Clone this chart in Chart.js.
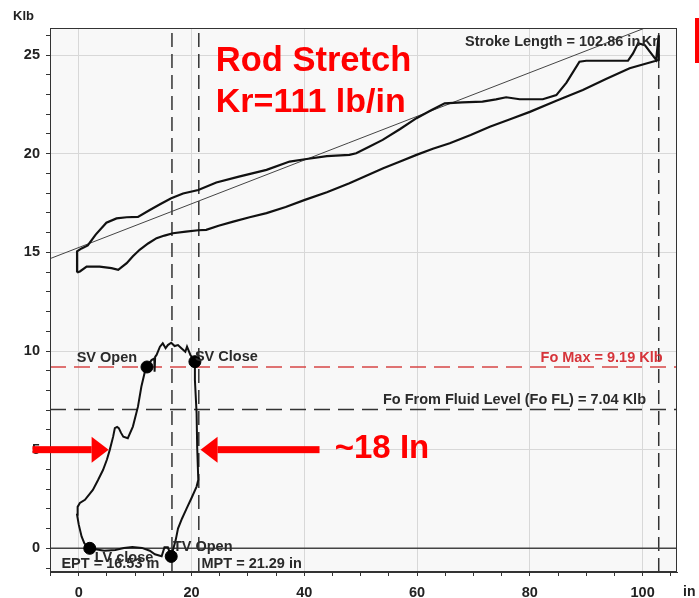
<!DOCTYPE html>
<html><head><meta charset="utf-8">
<script src="https://cdn.jsdelivr.net/npm/chart.js@4"></script>
<style>html,body{margin:0;padding:0;background:#fff;}#wrap{width:699px;height:598px;position:relative;}</style>
</head><body><div id="wrap"><canvas id="c" width="699" height="598"></canvas></div>
<script>
// Surface card (closed loop): upstroke left->right, downstroke right->left
const surfaceX = [-0.3,-0.3,0.5,1.6,3.0,4.9,6.7,8.5,10.5,12.6,14.5,16.4,18.5,21.2,24.4,28.4,33.3,37.4,40.1,44,48,49.2,51.5,53.9,57,59.9,62.5,64.9,68,71.6,74,75.8,78.2,82.3,84.7,86.5,88.8,90,97.4,98.3,99.2,100.4,102.4,102.86,102.86,
  97.7,93.5,89.4,84.7,80,76.5,72.9,69.5,65.8,62.8,59.9,57,54,51,48,44,40.1,36.7,33.3,30.3,27.4,24.8,22.6,21.2,19,16.7,15.2,13.8,12.3,10.8,9.6,8.5,7.0,5.8,3.7,1.4,0.2,-0.3];
const surfaceY = [13.98,15.05,15.2,15.35,15.9,16.5,16.72,16.78,16.8,17.15,17.45,17.74,17.98,18.16,18.54,18.84,19.18,19.6,19.72,19.88,19.94,20.02,20.35,20.7,21.25,21.8,22.2,22.55,22.6,22.64,22.75,22.86,22.76,22.76,22.97,23.6,24.66,24.71,24.71,25.08,25.6,25.5,24.75,26.0,24.75,
  24.33,23.78,23.23,22.68,22.12,21.75,21.37,20.95,20.53,20.25,19.94,19.6,19.26,18.88,18.5,18.05,17.66,17.3,16.99,16.78,16.56,16.35,16.14,16.12,16.05,15.97,15.85,15.72,15.45,15.13,14.8,14.45,14.11,14.2,14.28,14.28,14.03,13.98];
// Downhole (pump) card
const pumpX = [1.95,1.0,0.5,0.0,-0.3,-0.2,0.2,1.1,2.5,3.4,4.3,5.0,5.5,6.1,6.4,6.8,7.1,7.5,7.9,8.7,9.6,10.5,11.1,11.8,12.1,12.9,13.4,13.45,13.55,13.8,14.4,14.9,15.4,15.8,16.4,17.0,17.6,18.2,18.9,19.2,19.8,20.6,20.6,20.9,21.0,21.2,20.9,20.0,19.1,18.3,17.6,17.2,16.4,15.8,15.2,14.7,13.5,12.6,11.2,9.5,8.0,6.5,4.5,1.95];
const pumpY = [0,0.25,0.6,1.2,1.7,2.1,2.3,2.46,2.96,3.45,3.97,4.5,4.99,5.66,6.09,6.15,6.09,5.85,5.66,5.58,6.17,7.18,8.19,9.04,9.19,9.54,9.62,8.95,9.7,9.8,10.22,10.39,10.14,10.3,10.42,10.25,10.3,10.14,9.96,10.22,9.8,9.46,8.53,6.85,5.15,3.47,3.13,2.55,2.0,1.5,1.0,0.43,-0.41,0.05,0.05,-0.4,-0.3,-0.12,0.02,0.07,0.02,-0.08,-0.12,0];
// Valve events
const eventNames = ['LV close','SV Open','SV Close','TV Open'];
const eventX = [1.95,12.1,20.6,16.4];
const eventY = [0,9.19,9.46,-0.41];
// Rod stretch line (read endpoints)
const rodLineX = [-5.1,106.1];
const rodLineY = [14.68,27.0];
// Reference values
const foMax = 9.19, foFL = 7.04, ept = 16.53, mpt = 21.29, strokeLength = 102.86;
// Axes
const xMin = -5.1, xMax = 106.1, yMin = -1.2, yMax = 26.37;
const xMajorTicks = [0,20,40,60,80,100];
const yMajorTicks = [0,5,10,15,20,25];
const xMinorTicks = [-5,0,5,10,15,20,25,30,35,40,45,50,55,60,65,70,75,80,85,90,95,100,105];
const yMinorTicks = [-1,0,1,2,3,4,5,6,7,8,9,10,11,12,13,14,15,16,17,18,19,20,21,22,23,24,25,26];

const zip = (xs, ys) => xs.map((x, i) => ({x, y: ys[i]}));
const hline = v => [{x:xMin,y:v},{x:xMax,y:v}];
const vline = v => [{x:v,y:yMin},{x:v,y:yMax}];
const base = {showLine:true, pointRadius:0, fill:false, tension:0};

const FONT = '"Liberation Sans", Arial, sans-serif';

const decor = {
  id: 'decor',
  beforeDraw(chart) {
    const {ctx, chartArea: a} = chart;
    ctx.save();
    ctx.fillStyle = '#f8f8f8';
    ctx.fillRect(a.left, a.top, a.right - a.left, a.bottom - a.top);
    ctx.restore();
  },
  afterDraw(chart) {
    const {ctx, chartArea: a, scales} = chart;
    const X = v => scales.x.getPixelForValue(v), Y = v => scales.y.getPixelForValue(v);
    ctx.save();
    ctx.strokeStyle = '#333'; ctx.lineWidth = 1;
    ctx.strokeRect(a.left + 0.5, a.top + 0.5, a.right - a.left - 1, a.bottom - a.top - 1);
    const T = (s, xv, yv, align, font, color) => {
      ctx.font = font; ctx.fillStyle = color; ctx.textAlign = align; ctx.textBaseline = 'alphabetic';
      ctx.fillText(s, X(xv), Y(yv));
    };
    const lab = 'bold 14.5px ' + FONT;
    T('SV Open', 10.35, 9.46, 'right', lab, '#2a2a2a');
    T('SV Close', 20.6, 9.49, 'left', lab, '#2a2a2a');
    T('TV Open', 16.7, -0.12, 'left', lab, '#2a2a2a');
    T('LV close', 2.84, -0.69, 'left', lab, '#2a2a2a');
    T('EPT = 16.53 in', -3.07, -1.01, 'left', lab, '#2a2a2a');
    T('MPT = 21.29 in', 21.77, -1.01, 'left', lab, '#2a2a2a');
    T('Fo Max = 9.19 Klb', 103.55, 9.46, 'right', lab, '#d6343a');
    T('Fo From Fluid Level (Fo FL) = 7.04 Klb', 100.6, 7.31, 'right', lab, '#2a2a2a');
    T('Stroke Length = 102.86 in', 68.5, 25.48, 'left', lab, '#2a2a2a');
    T('Kr', 102.7, 25.48, 'right', lab, '#2a2a2a');
    T('Rod Stretch', 24.3, 24.19, 'left', 'bold 34.5px ' + FONT, '#ff0000');
    T('Kr=111 lb/in', 24.3, 22.1, 'left', 'bold 34px ' + FONT, '#ff0000');
    T('~18 In', 45.4, 4.56, 'left', 'bold 33px ' + FONT, '#ff0000');
    // arrows
    const arrow = (tailX, tipX, yv) => {
      const y = Y(yv), x1 = X(tailX), x2 = X(tipX);
      const dir = Math.sign(x2 - x1), hl = 17, hh = 13, sw = 7;
      ctx.fillStyle = '#ff0000';
      ctx.fillRect(Math.min(x1, x2 - dir*hl), y - sw/2, Math.abs(x2 - dir*hl - x1), sw);
      ctx.beginPath(); ctx.moveTo(x2, y); ctx.lineTo(x2 - dir*hl, y - hh); ctx.lineTo(x2 - dir*hl, y + hh); ctx.closePath(); ctx.fill();
    };
    arrow(-8.2, 5.3, 5.0);
    arrow(42.7, 21.6, 5.0);
    // axis unit labels
    ctx.font = 'bold 13px ' + FONT; ctx.fillStyle = '#222'; ctx.textAlign = 'left';
    ctx.fillText('Klb', 13, 20);
    ctx.font = 'bold 14px ' + FONT;
    ctx.fillText('in', 683, 596);
    // red box edge at right
    ctx.fillStyle = '#ff0000';
    ctx.fillRect(chart.width - 4, 18, 4, 45);
    ctx.restore();
  }
};

new Chart(document.getElementById('c'), {
  type: 'scatter',
  data: {
    datasets: [
      {...base, data: zip(eventX, eventY), showLine:false, pointRadius:6, pointBackgroundColor:'#000', pointBorderColor:'#000'},
      {...base, data: zip(surfaceX, surfaceY), borderColor:'#111', borderWidth:2.2},
      {...base, data: zip(pumpX, pumpY), borderColor:'#111', borderWidth:2},
      {...base, data: zip(rodLineX, rodLineY), borderColor:'#444', borderWidth:1},
      {...base, data: hline(0), borderColor:'#444', borderWidth:1.5},
      {...base, data: hline(foMax), borderColor:'#d64545', borderWidth:1.5, borderDash:[16,8]},
      {...base, data: hline(foFL), borderColor:'#333', borderWidth:1.5, borderDash:[16,8]},
      {...base, data: vline(ept), borderColor:'#333', borderWidth:1.5, borderDash:[14,7]},
      {...base, data: vline(mpt), borderColor:'#333', borderWidth:1.5, borderDash:[14,7]},
      {...base, data: vline(strokeLength), borderColor:'#333', borderWidth:1.5, borderDash:[14,7]}
    ]
  },
  options: {
    responsive:false, animation:false, devicePixelRatio:1,
    layout:{padding:{top:28, right:22, left:0, bottom:0}},
    plugins:{legend:{display:false}, tooltip:{enabled:false}},
    scales:{
      x:{type:'linear', min:xMin, max:xMax,
        afterBuildTicks: s => { s.ticks = xMinorTicks.map(v => ({value:v})); },
        afterFit: s => { s.height = 26; },
        grid:{color: c => xMajorTicks.includes(c.tick && c.tick.value) ? '#d8d8d8' : 'rgba(0,0,0,0)', tickColor:'#333', tickLength:4, lineWidth:1},
        border:{display:true, color:'#333'},
        ticks:{autoSkip:false, maxRotation:0, padding:8, color:'#222', font:{family:FONT, size:14.5, weight:'bold'},
          callback: v => xMajorTicks.includes(v) ? String(v) : ''}
      },
      y:{type:'linear', min:yMin, max:yMax,
        afterBuildTicks: s => { s.ticks = yMinorTicks.map(v => ({value:v})); },
        afterFit: s => { s.width = 50; },
        grid:{color: c => yMajorTicks.includes(c.tick && c.tick.value) ? '#d8d8d8' : 'rgba(0,0,0,0)', tickColor:'#333', tickLength:4, lineWidth:1},
        border:{display:true, color:'#333'},
        ticks:{autoSkip:false, padding:6, color:'#222', font:{family:FONT, size:14.5, weight:'bold'},
          callback: v => yMajorTicks.includes(v) ? String(v) : ''}
      }
    }
  },
  plugins:[decor]
});
</script></body></html>
